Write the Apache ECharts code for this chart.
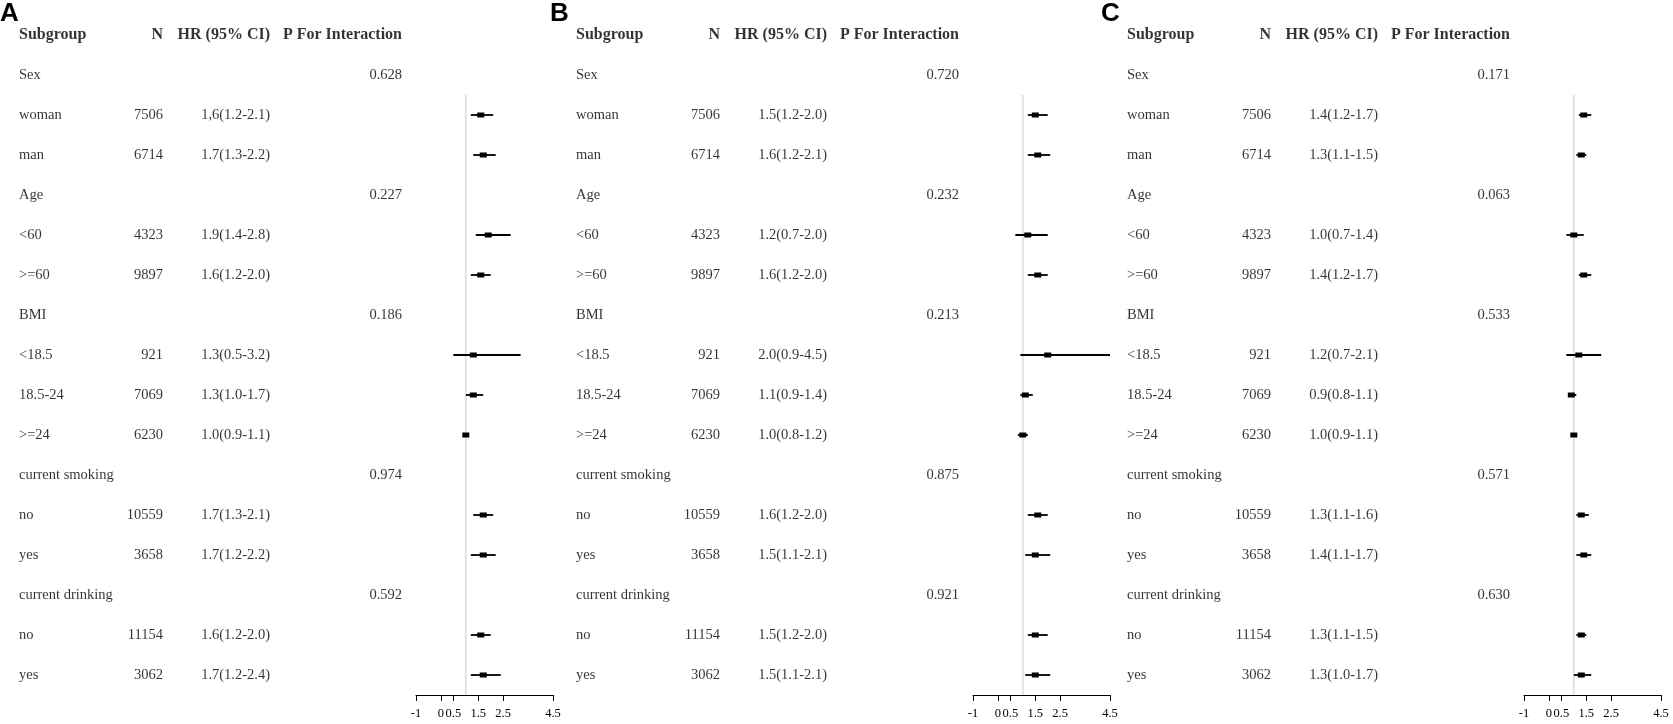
<!DOCTYPE html>
<html>
<head>
<meta charset="utf-8">
<script src="https://cdn.jsdelivr.net/npm/echarts@6/dist/echarts.min.js"></script>
<style>
  html, body { margin: 0; padding: 0; background: #fff; }
  #chart { width: 1673px; height: 724px; }
</style>
</head>
<body>
<div id="chart"></div>
<script>
// rows shared by all three panels (row 0 is the header)
const rowLabels = ['Sex', 'woman', 'man', 'Age', '<60', '>=60', 'BMI', '<18.5', '18.5-24', '>=24',
  'current smoking', 'no', 'yes', 'current drinking', 'no', 'yes'];
const rowN = ['', '7506', '6714', '', '4323', '9897', '', '921', '7069', '6230',
  '', '10559', '3658', '', '11154', '3062'];
const headers = ['Subgroup', 'N', 'HR (95% CI)', 'P For Interaction'];
const tickValues = [-1, 0, 0.5, 1.5, 2.5, 4.5];

// Panel A
const hrTextA = ['', '1,6(1.2-2.1)', '1.7(1.3-2.2)', '', '1.9(1.4-2.8)', '1.6(1.2-2.0)', '', '1.3(0.5-3.2)',
  '1.3(1.0-1.7)', '1.0(0.9-1.1)', '', '1.7(1.3-2.1)', '1.7(1.2-2.2)', '', '1.6(1.2-2.0)', '1.7(1.2-2.4)'];
const pA = ['0.628', '', '', '0.227', '', '', '0.186', '', '', '', '0.974', '', '', '0.592', '', ''];
const hrA = [null, 1.6, 1.7, null, 1.9, 1.6, null, 1.3, 1.3, 1.0, null, 1.7, 1.7, null, 1.6, 1.7];
const loA = [null, 1.2, 1.3, null, 1.4, 1.2, null, 0.5, 1.0, 0.9, null, 1.3, 1.2, null, 1.2, 1.2];
const hiA = [null, 2.1, 2.2, null, 2.8, 2.0, null, 3.2, 1.7, 1.1, null, 2.1, 2.2, null, 2.0, 2.4];

// Panel B
const hrTextB = ['', '1.5(1.2-2.0)', '1.6(1.2-2.1)', '', '1.2(0.7-2.0)', '1.6(1.2-2.0)', '', '2.0(0.9-4.5)',
  '1.1(0.9-1.4)', '1.0(0.8-1.2)', '', '1.6(1.2-2.0)', '1.5(1.1-2.1)', '', '1.5(1.2-2.0)', '1.5(1.1-2.1)'];
const pB = ['0.720', '', '', '0.232', '', '', '0.213', '', '', '', '0.875', '', '', '0.921', '', ''];
const hrB = [null, 1.5, 1.6, null, 1.2, 1.6, null, 2.0, 1.1, 1.0, null, 1.6, 1.5, null, 1.5, 1.5];
const loB = [null, 1.2, 1.2, null, 0.7, 1.2, null, 0.9, 0.9, 0.8, null, 1.2, 1.1, null, 1.2, 1.1];
const hiB = [null, 2.0, 2.1, null, 2.0, 2.0, null, 4.5, 1.4, 1.2, null, 2.0, 2.1, null, 2.0, 2.1];

// Panel C
const hrTextC = ['', '1.4(1.2-1.7)', '1.3(1.1-1.5)', '', '1.0(0.7-1.4)', '1.4(1.2-1.7)', '', '1.2(0.7-2.1)',
  '0.9(0.8-1.1)', '1.0(0.9-1.1)', '', '1.3(1.1-1.6)', '1.4(1.1-1.7)', '', '1.3(1.1-1.5)', '1.3(1.0-1.7)'];
const pC = ['0.171', '', '', '0.063', '', '', '0.533', '', '', '', '0.571', '', '', '0.630', '', ''];
const hrC = [null, 1.4, 1.3, null, 1.0, 1.4, null, 1.2, 0.9, 1.0, null, 1.3, 1.4, null, 1.3, 1.3];
const loC = [null, 1.2, 1.1, null, 0.7, 1.2, null, 0.7, 0.8, 0.9, null, 1.1, 1.1, null, 1.1, 1.0];
const hiC = [null, 1.7, 1.5, null, 1.4, 1.7, null, 2.1, 1.1, 1.1, null, 1.6, 1.7, null, 1.5, 1.7];

const panels = [
  { letter: 'A', x: 0, hrText: hrTextA, p: pA, hr: hrA, lo: loA, hi: hiA },
  { letter: 'B', x: 557, hrText: hrTextB, p: pB, hr: hrB, lo: loB, hi: hiB },
  { letter: 'C', x: 1108, hrText: hrTextC, p: pC, hr: hrC, lo: loC, hi: hiC }
];

// layout
const TOP = 35, ROW_H = 40, LAST = 16.5;
const COL = { label: 19, n: 163, hr: 270, p: 402 };
const SERIF = 'Liberation Serif';

const chart = echarts.init(document.getElementById('chart'));

const grid = [], xAxis = [], yAxis = [], series = [], title = [];

function textSeries(gi, items, bold, size) {
  return {
    type: 'scatter', xAxisIndex: gi, yAxisIndex: gi, symbolSize: 0, silent: true,
    data: items.map(it => ({
      value: [it.x, it.row], name: it.text,
      label: { position: it.right ? 'left' : 'right' }
    })),
    label: {
      show: true, distance: 0, formatter: p => p.name,
      color: '#000', fontFamily: SERIF, fontSize: size, fontWeight: bold ? 'bold' : 'normal'
    }
  };
}

panels.forEach((pn, i) => {
  const gt = i * 2, gf = i * 2 + 1;
  title.push({
    text: pn.letter, left: pn.letter === 'A' ? 0 : pn.x - 7, top: 1, padding: 0,
    textStyle: { fontFamily: 'Liberation Sans', fontWeight: 'bold', fontSize: 26, color: '#000' }
  });
  // table grid
  grid.push({ left: pn.x, top: TOP, width: 410, height: ROW_H * LAST });
  xAxis.push({ type: 'value', gridIndex: gt, min: 0, max: 410, show: false });
  yAxis.push({ type: 'value', gridIndex: gt, min: 0, max: LAST, inverse: true, show: false });
  // forest grid
  grid.push({ left: pn.x + 416, top: TOP, width: 137, height: ROW_H * LAST });
  xAxis.push({
    type: 'value', gridIndex: gf, min: -1, max: 4.5,
    splitLine: { show: false },
    axisLine: { show: true, onZero: false, lineStyle: { color: '#000', width: 1 } },
    axisTick: { show: true, customValues: tickValues, length: 6, lineStyle: { color: '#000' } },
    axisLabel: { customValues: tickValues, margin: 12, color: '#000', fontFamily: SERIF, fontSize: 12.5,
      formatter: v => String(v) }
  });
  yAxis.push({ type: 'value', gridIndex: gf, min: 0, max: LAST, inverse: true, show: false });

  // header row
  series.push(textSeries(gt, [
    { x: COL.label, row: 0, text: headers[0] },
    { x: COL.n, row: 0, text: headers[1], right: true },
    { x: COL.hr, row: 0, text: headers[2], right: true },
    { x: COL.p, row: 0, text: headers[3], right: true }
  ], true, 16));

  // body rows
  const items = [];
  rowLabels.forEach((t, r) => {
    items.push({ x: COL.label, row: r + 1, text: t });
    if (rowN[r]) items.push({ x: COL.n, row: r + 1, text: rowN[r], right: true });
    if (pn.hrText[r]) items.push({ x: COL.hr, row: r + 1, text: pn.hrText[r], right: true });
    if (pn.p[r]) items.push({ x: COL.p, row: r + 1, text: pn.p[r], right: true });
  });
  series.push(textSeries(gt, items, false, 14.5));

  // reference line at HR = 1
  series.push({
    type: 'line', xAxisIndex: gf, yAxisIndex: gf, silent: true, symbol: 'none', z: 1,
    lineStyle: { color: '#e2e2e2', width: 2 },
    data: [[1, 1.5], [1, LAST]]
  });

  // CI lines and boxes
  const fdata = [];
  pn.hr.forEach((v, r) => {
    if (v !== null) fdata.push([r + 1, v, pn.lo[r], pn.hi[r]]);
  });
  series.push({
    type: 'custom', xAxisIndex: gf, yAxisIndex: gf, silent: true, z: 3,
    encode: { x: [1, 2, 3], y: 0 },
    data: fdata,
    renderItem: (params, api) => {
      const row = api.value(0);
      const a = api.coord([api.value(2), row]);
      const b = api.coord([api.value(3), row]);
      const c = api.coord([api.value(1), row]);
      return {
        type: 'group',
        children: [
          { type: 'line', shape: { x1: a[0], y1: a[1], x2: b[0], y2: b[1] },
            style: { stroke: '#000', lineWidth: 1.8 } },
          { type: 'rect', shape: { x: c[0] - 3.5, y: c[1] - 2.5, width: 7, height: 5 },
            style: { fill: '#000' } }
        ]
      };
    }
  });
});

chart.setOption({
  animation: false,
  backgroundColor: '#fff',
  title: title,
  grid: grid,
  xAxis: xAxis,
  yAxis: yAxis,
  series: series
});
</script>
</body>
</html>
